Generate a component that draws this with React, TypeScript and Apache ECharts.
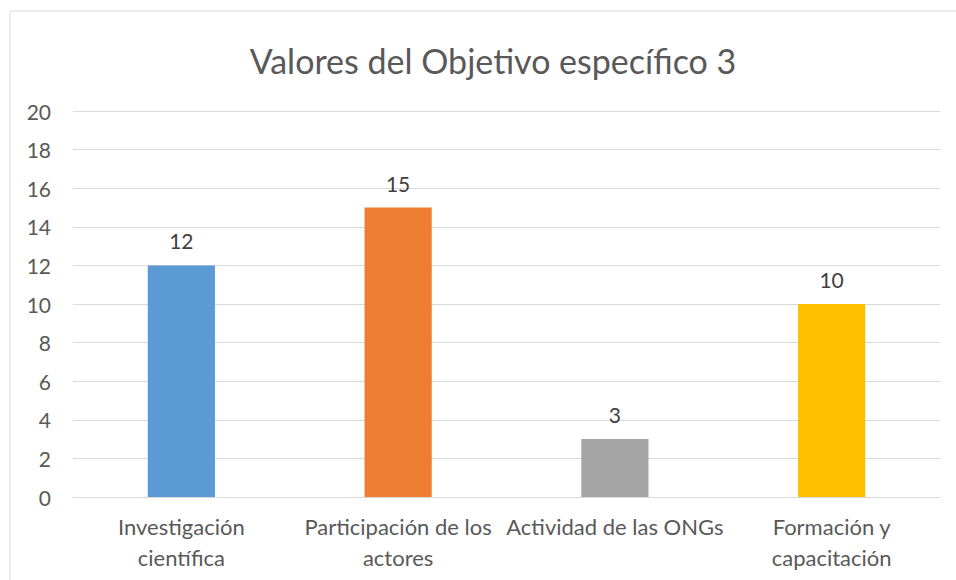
import React, { useEffect, useRef } from "react";
import * as echarts from "echarts";

const titleText = "Valores del Objetivo específico 3";
const categories = [
  "Investigación\ncientífica",
  "Participación de los\nactores",
  "Actividad de las ONGs",
  "Formación y\ncapacitación",
];
const values = [12, 15, 3, 10];
const barColors = ["#5B9BD5", "#ED7D31", "#A5A5A5", "#FFC000"];
const yMin = 0;
const yMax = 20;
const yStep = 2;

export default function App() {
  const ref = useRef<HTMLDivElement>(null);
  useEffect(() => {
    document.body.style.margin = "0";
    if (!ref.current) return;
    const chart = echarts.init(ref.current, undefined, { renderer: "svg" });
    const font = "Lato, 'Open Sans', sans-serif";
    chart.setOption({
      animation: false,
      backgroundColor: "#ffffff",
      title: {
        text: titleText,
        left: 488,
        top: 38,
        textAlign: "center",
        textStyle: { fontFamily: font, fontSize: 34, fontWeight: "normal", color: "#595959" },
      },
      graphic: [
        {
          type: "rect",
          shape: { x: 10, y: 11, width: 1000, height: 700 },
          style: { fill: "none", stroke: "#D9D9D9", lineWidth: 1 },
          silent: true,
        },
      ],
      grid: { left: 73, right: 16, top: 111, bottom: 83 },
      xAxis: {
        type: "category",
        data: categories,
        axisLine: { show: true, lineStyle: { color: "#D9D9D9", width: 1 } },
        axisTick: { show: false },
        axisLabel: {
          color: "#595959",
          fontFamily: font,
          fontSize: 22,
          lineHeight: 31,
          margin: 14,
          interval: 0,
        },
      },
      yAxis: {
        type: "value",
        min: yMin,
        max: yMax,
        interval: yStep,
        axisLine: { show: false },
        axisTick: { show: false },
        axisLabel: { color: "#595959", fontFamily: font, fontSize: 21, margin: 22 },
        splitLine: { lineStyle: { color: "#D9D9D9", width: 1 } },
      },
      series: [
        {
          type: "bar",
          data: values.map((v, i) => ({ value: v, itemStyle: { color: barColors[i] } })),
          barWidth: "31%",
          label: {
            show: true,
            position: "top",
            distance: 14,
            color: "#404040",
            fontFamily: font,
            fontSize: 21,
          },
        },
      ],
    });
    return () => chart.dispose();
  }, []);
  return <div ref={ref} style={{ width: 956, height: 580 }} />;
}
